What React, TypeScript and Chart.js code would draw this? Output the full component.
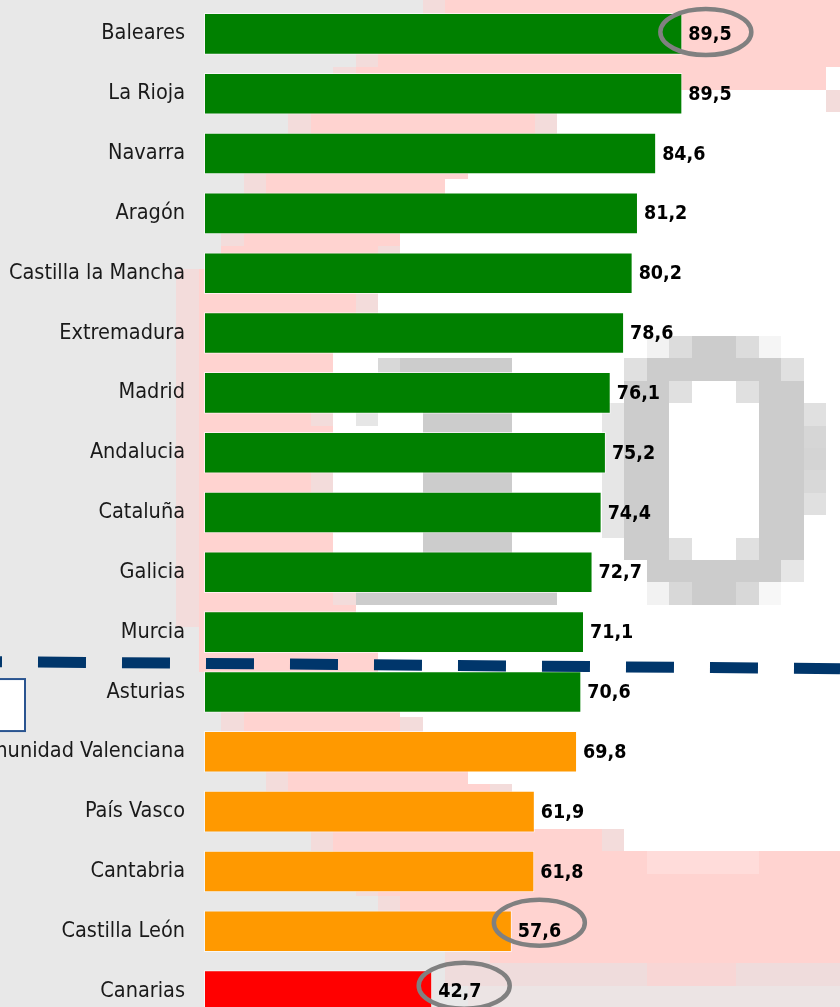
import { useEffect, useRef } from "react";
import { Chart, registerables } from "chart.js";

Chart.register(...registerables);

// ---- data ----
const regions = [
  "Baleares", "La Rioja", "Navarra", "Aragón", "Castilla la Mancha", "Extremadura",
  "Madrid", "Andalucia", "Cataluña", "Galicia", "Murcia", "Asturias",
  "Comunidad Valenciana", "País Vasco", "Cantabria", "Castilla León", "Canarias",
];
const values = [89.5, 89.5, 84.6, 81.2, 80.2, 78.6, 76.1, 75.2, 74.4, 72.7, 71.1, 70.6, 69.8, 61.9, 61.8, 57.6, 42.7];
const highlighted = ["Baleares", "Castilla León", "Canarias"];
const xMin = 0;
const xMax = 119;

// ---- styles ----
const FONT = '"DejaVu Sans Condensed", "DejaVu Sans", sans-serif';
const GREEN = "#008000";
const ORANGE = "#ff9900";
const RED = "#ff0000";
const colorFor = (v: number) => (v >= 70 ? GREEN : v >= 50 ? ORANGE : RED);
const fmt = (v: number) => v.toFixed(1).replace(".", ",");

// ellipse annotation offsets (relative to bar end / bar centre)
const ELLIPSE_OFFSETS: Record<string, [number, number]> = {
  "Baleares": [23.5, -1.8],
  "Castilla León": [27.5, -8.5],
  "Canarias": [32, -5.4],
};

// ---- decorative pixelated backdrop (grid cells) ----
const CELL = 22.4;
const GX = 19.5;
const BASE = "#e8e8e8";
const P = "#ffd3d0";
const L = "#f3dcdb";
const W = "#ffffff";
const G = "#cccccc";
const BACKDROP: [number, number, number, string][] = [
  [0, 18, 19, L], [0, 19, 38, P],
  [1, 18, 19, L], [1, 19, 38, P],
  [2, 15, 16, L], [2, 16, 38, P],
  [3, 14, 15, L], [3, 15, 36, P], [3, 36, 38, W],
  [4, 9, 36, W], [4, 36, 38, L],
  [5, 12, 13, L], [5, 13, 23, P], [5, 23, 24, L], [5, 24, 38, W],
  [6, 9, 38, W],
  [7, 10, 11, L], [7, 11, 20, P], [7, 20, 38, W],
  [8, 10, 11, L], [8, 11, 19, P], [8, 19, 38, W],
  [9, 9, 38, W],
  [10, 9, 10, L], [10, 10, 17, P], [10, 17, 38, W],
  [11, 9, 16, P], [11, 16, 17, L], [11, 17, 38, W],
  [12, 7, 8, L], [12, 8, 9, P], [12, 9, 38, W],
  [13, 7, 8, L], [13, 8, 15, P], [13, 15, 16, L], [13, 16, 38, W],
  [14, 7, 8, L], [14, 8, 9, P], [14, 9, 38, W],
  [15, 7, 8, L], [15, 8, 14, P], [15, 14, 38, W],
  [16, 7, 8, L], [16, 8, 14, P], [16, 14, 16, W], [16, 16, 17, "#d8d8d8"], [16, 17, 22, G], [16, 22, 38, W],
  [17, 7, 8, L], [17, 8, 9, P], [17, 9, 38, W],
  [18, 7, 8, L], [18, 8, 13, P], [18, 13, 14, L], [18, 14, 15, W], [18, 15, 16, "#e6e6e6"], [18, 16, 18, W], [18, 18, 22, G], [18, 22, 38, W],
  [19, 7, 8, L], [19, 8, 14, P], [19, 14, 18, W], [19, 18, 22, G], [19, 22, 38, W],
  [20, 7, 8, L], [20, 8, 9, P], [20, 9, 38, W],
  [21, 7, 8, L], [21, 8, 13, P], [21, 13, 14, L], [21, 14, 18, W], [21, 18, 22, G], [21, 22, 38, W],
  [22, 7, 8, L], [22, 8, 9, P], [22, 9, 38, W],
  [23, 7, 8, L], [23, 8, 14, P], [23, 14, 18, W], [23, 18, 22, G], [23, 22, 38, W],
  [24, 7, 8, L], [24, 8, 14, P], [24, 14, 18, W], [24, 18, 22, G], [24, 22, 38, W],
  [25, 7, 8, L], [25, 8, 9, P], [25, 9, 38, W],
  [26, 7, 8, L], [26, 8, 14, P], [26, 14, 15, L], [26, 15, 24, G], [26, 24, 38, W],
  [27, 7, 8, L], [27, 8, 15, P], [27, 15, 38, W],
  [28, 8, 9, P], [28, 9, 38, W],
  [29, 8, 16, P], [29, 16, 38, W],
  [30, 9, 38, W],
  [31, 9, 10, L], [31, 10, 17, P], [31, 17, 38, W],
  [32, 9, 10, L], [32, 10, 17, P], [32, 17, 18, L], [32, 18, 38, W],
  [33, 9, 38, W],
  [34, 11, 12, L], [34, 12, 20, P], [34, 20, 38, W],
  [35, 11, 12, L], [35, 12, 21, P], [35, 21, 22, L], [35, 22, 38, W],
  [36, 9, 38, W],
  [37, 13, 14, L], [37, 14, 26, P], [37, 26, 27, L], [37, 27, 37, W], [37, 37, 38, L],
  [38, 14, 38, P], [38, 28, 33, "#ffdcda"],
  [39, 15, 16, L], [39, 16, 38, P],
  [40, 16, 17, L], [40, 17, 38, P],
  [41, 16, 17, L], [41, 17, 38, P],
  [42, 19, 21, L], [42, 21, 38, P],
  [43, 19, 38, "#efdcdc"], [43, 28, 32, "#f8d6d5"],
  [44, 20, 38, "#ece4e4"],
  // big pixelated "0"
  [15, 28, 29, "#f2f2f2"], [15, 29, 30, "#dcdcdc"], [15, 30, 32, G], [15, 32, 33, "#dcdcdc"], [15, 33, 34, "#f5f5f5"],
  [16, 27, 28, "#e0e0e0"], [16, 28, 34, G], [16, 34, 35, "#e0e0e0"],
  [17, 27, 29, G], [17, 29, 30, "#e0e0e0"], [17, 32, 33, "#e0e0e0"], [17, 33, 35, G],
  [18, 26, 27, "#e6e6e6"], [18, 27, 29, G], [18, 33, 35, G], [18, 35, 36, "#e0e0e0"],
  [19, 26, 27, "#e6e6e6"], [19, 27, 29, G], [19, 33, 35, G], [19, 35, 36, "#d6d6d6"],
  [20, 26, 27, "#e6e6e6"], [20, 27, 29, G], [20, 33, 35, G], [20, 35, 36, "#d4d4d4"],
  [21, 26, 27, "#e6e6e6"], [21, 27, 29, G], [21, 33, 35, G], [21, 35, 36, "#d8d8d8"],
  [22, 26, 27, "#e6e6e6"], [22, 27, 29, G], [22, 33, 35, G], [22, 35, 36, "#e0e0e0"],
  [23, 26, 27, "#e6e6e6"], [23, 27, 29, G], [23, 33, 35, G],
  [24, 27, 29, G], [24, 29, 30, "#e0e0e0"], [24, 32, 33, "#e0e0e0"], [24, 33, 35, G],
  [25, 28, 34, G], [25, 34, 35, "#e6e6e6"],
  [26, 28, 29, "#f2f2f2"], [26, 29, 30, "#d8d8d8"], [26, 30, 32, G], [26, 32, 33, "#d8d8d8"], [26, 33, 34, "#f7f7f7"],
];

const backdropPlugin = {
  id: "backdrop",
  beforeDraw(chart: any) {
    const ctx = chart.ctx;
    ctx.save();
    ctx.fillStyle = BASE;
    ctx.fillRect(0, 0, chart.width, chart.height);
    for (const [r, c0, c1, col] of BACKDROP) {
      const x0 = Math.round(GX + c0 * CELL);
      const x1 = Math.round(GX + c1 * CELL);
      const y0 = Math.round(r * CELL);
      const y1 = Math.round((r + 1) * CELL);
      ctx.fillStyle = col;
      ctx.fillRect(x0, y0, x1 - x0, y1 - y0);
    }
    ctx.restore();
  },
};

const overlayPlugin = {
  id: "overlay",
  afterDatasetsDraw(chart: any) {
    const ctx = chart.ctx;
    const meta = chart.getDatasetMeta(0);
    const yScale = chart.scales.y;
    ctx.save();

    // ellipses around highlighted values
    ctx.strokeStyle = "#808080";
    ctx.lineWidth = 4.5;
    highlighted.forEach((name) => {
      const i = regions.indexOf(name);
      const bar = meta.data[i];
      const [dx, dy] = ELLIPSE_OFFSETS[name] || [25, 0];
      ctx.beginPath();
      ctx.ellipse(bar.x + dx, bar.y + dy, 45.5, 23, 0, 0, Math.PI * 2);
      ctx.stroke();
    });

    // value labels
    ctx.fillStyle = "#000000";
    ctx.font = `bold 19.5px ${FONT}`;
    ctx.textAlign = "left";
    ctx.textBaseline = "middle";
    meta.data.forEach((bar: any, i: number) => {
      ctx.fillText(fmt(values[i]), bar.x + 6, bar.y + 1);
    });

    // dashed threshold line between Murcia and Asturias
    const yLine = (yScale.getPixelForValue(10) + yScale.getPixelForValue(11)) / 2;
    ctx.strokeStyle = "#00366b";
    ctx.lineWidth = 11;
    ctx.lineCap = "butt";
    ctx.setLineDash([48, 36]);
    ctx.lineDashOffset = 46;
    ctx.beginPath();
    ctx.moveTo(0, yLine - 0.4);
    ctx.lineTo(chart.width, yLine + 6.6);
    ctx.stroke();
    ctx.setLineDash([]);

    // partially visible white box at the left edge
    ctx.fillStyle = "#ffffff";
    ctx.strokeStyle = "#2a5490";
    ctx.lineWidth = 2;
    ctx.fillRect(-10, yLine + 17, 35, 52);
    ctx.strokeRect(-10, yLine + 17, 35, 52);

    ctx.restore();
  },
};

export default function App() {
  const ref = useRef<HTMLCanvasElement | null>(null);

  useEffect(() => {
    if (!ref.current) return;
    const chart = new Chart(ref.current, {
      type: "bar",
      data: {
        labels: regions,
        datasets: [
          {
            data: values,
            backgroundColor: values.map(colorFor),
            borderColor: "rgba(255,255,255,0.65)",
            borderWidth: 1,
            borderSkipped: false,
            barPercentage: 0.695,
            categoryPercentage: 1,
          },
        ],
      },
      options: {
        indexAxis: "y",
        responsive: false,
        animation: false,
        devicePixelRatio: 1,
        layout: { padding: { top: 4, left: 0, right: 0, bottom: 0 } },
        plugins: {
          legend: { display: false },
          tooltip: { enabled: false },
          title: { display: false },
        },
        scales: {
          x: { display: false, min: xMin, max: xMax },
          y: {
            grid: { display: false, drawTicks: false },
            border: { display: false },
            ticks: {
              autoSkip: false,
              padding: 19,
              color: "#1a1a1a",
              font: { family: FONT, size: 21.5 },
            },
            afterFit: (s: any) => {
              s.width = 204;
              s.paddingTop = 0;
              s.paddingBottom = 0;
            },
          },
        },
      },
      plugins: [backdropPlugin, overlayPlugin],
    });
    return () => chart.destroy();
  }, []);

  return (
    <div style={{ position: "fixed", left: 0, top: 0, width: 840, height: 1007, overflow: "hidden", background: BASE }}>
      <canvas ref={ref} width={840} height={1021} style={{ display: "block", width: 840, height: 1021 }} />
    </div>
  );
}
